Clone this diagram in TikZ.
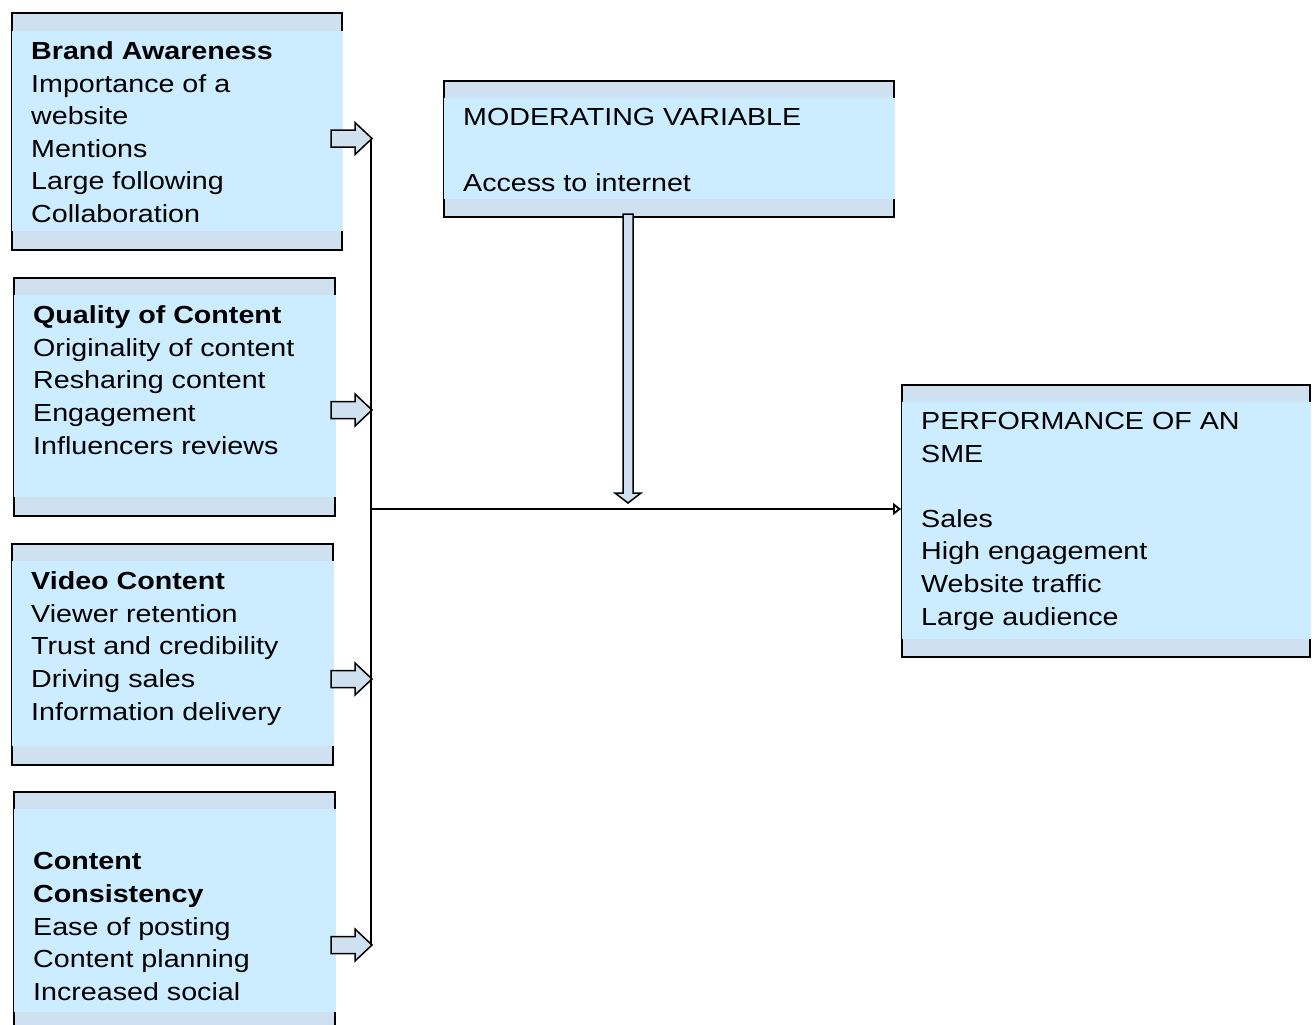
\documentclass[tikz,border=0pt]{standalone}
\usepackage{fontspec}
\setmainfont{Liberation Sans}[FakeStretch=1.16]
\usetikzlibrary{arrows.meta}
\definecolor{bandblue}{RGB}{207,224,241}
\definecolor{innerblue}{RGB}{204,236,255}
\definecolor{arrowblue}{RGB}{207,224,241}
\tikzset{
  outerbox/.style={draw=black, line width=1.8pt, fill=bandblue, rectangle, inner sep=0pt, anchor=north west},
  innerband/.style={fill=innerblue},
  boxtext/.style={anchor=north west, inner sep=0pt, align=left, font=\fontsize{24.7}{32.6}\selectfont},
  blockarrow/.style={draw=black, line width=1.5pt, fill=arrowblue, line join=miter},
  connector/.style={draw=black, line width=1.8pt},
}
\newcommand\rightblock[1]{\draw[blockarrow, shift={(0,#1)}] (331,-8.5) -- (355,-8.5) -- (355,-16) -- (372,0) -- (355,16) -- (355,8.5) -- (331,8.5) -- cycle;}
\begin{document}
\begin{tikzpicture}[x=1pt,y=-1pt]
\useasboundingbox (0,0) rectangle (1315,1025);

% Brand awareness
\node[outerbox, minimum width=330pt, minimum height=237pt] (ba) at (11,12) {};
\fill[innerband] (12,31) rectangle (342.5,231);
\node[boxtext] (tba) at (31,41.5) {\textbf{Brand Awareness}\\Importance of a\\website\\Mentions\\Large following\\Collaboration};

% Quality of content
\node[outerbox, minimum width=321pt, minimum height=238pt] (qc) at (13,277) {};
\fill[innerband] (14,295) rectangle (335.5,497);
\node[boxtext] (tqc) at (33,305.5) {\textbf{Quality of Content}\\Originality of content\\Resharing content\\Engagement\\Influencers reviews};

% Video content
\node[outerbox, minimum width=321pt, minimum height=221pt] (vc) at (11,543) {};
\fill[innerband] (12,561) rectangle (333.5,746);
\node[boxtext] (tvc) at (31,571.5) {\textbf{Video Content}\\Viewer retention\\Trust and credibility\\Driving sales\\Information delivery};

% Content consistency
\node[outerbox, minimum width=321pt, minimum height=260pt] (cc) at (13,791) {};
\fill[innerband] (14,809) rectangle (335.5,1012);
\node[boxtext] (tcc) at (33,852.5) {\textbf{Content}\\\textbf{Consistency}\\Ease of posting\\Content planning\\Increased social};

% Moderating variable
\node[outerbox, minimum width=450pt, minimum height=136pt] (mv) at (443,80) {};
\fill[innerband] (444,98) rectangle (894.5,199);
\node[boxtext] (tmv) at (463,108.5) {MODERATING VARIABLE\\[32.6pt]Access to internet};

% Performance
\node[outerbox, minimum width=408pt, minimum height=272pt] (pf) at (901,384) {};
\fill[innerband] (902,402) rectangle (1310.5,639);
\node[boxtext] (tpf) at (921,412) {PERFORMANCE OF AN\\SME\\[32.6pt]Sales\\High engagement\\Website traffic\\Large audience};

% block arrows from the boxes
\rightblock{138.5}
\rightblock{410}
\rightblock{679}
\rightblock{945}

% moderating arrow
\draw[blockarrow] (623,214) -- (623,493) -- (615,493) -- (628,503) -- (641,493) -- (633,493) -- (633,214) -- cycle;

% connectors
\coordinate (vtop) at (371,138.5);
\coordinate (vbot) at (371,945);
\coordinate (hstart) at (371,509);
\draw[connector] (vtop) -- (vbot);
\draw[connector, -{Triangle[open, length=8pt, width=12pt]}] (hstart) -- (pf.west |- hstart);
\end{tikzpicture}
\end{document}
